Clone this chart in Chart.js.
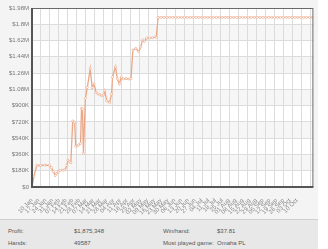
<!DOCTYPE html>
<html><head><meta charset="utf-8">
<script src="https://cdn.jsdelivr.net/npm/chart.js@4.4.1/dist/chart.umd.min.js"></script>
<style>
html,body{margin:0;padding:0;background:#fff;width:328px;height:249px;overflow:hidden;font-family:"Liberation Sans",Arial,sans-serif}
#panel{position:absolute;left:0;top:0;width:318px;height:249px;background:#f4f4f4}
#chartBox{position:absolute;left:0;top:0;width:318px;height:218px}
#stats{position:absolute;left:0;top:219px;width:318px;height:30px;background:#e8e8e8;border-top:1px solid #cfcfcf;font-size:6px;color:#555}
#stats span{position:absolute;white-space:nowrap;line-height:8px}
</style>
</head><body>
<div id="panel">
<div id="chartBox"><canvas id="c" width="318" height="218"></canvas></div>
<div id="stats">
<span style="left:8px;top:7px">Profit:</span>
<span style="left:74px;top:7px">$1,875,348</span>
<span style="left:163px;top:7px">Win/hand:</span>
<span style="left:217px;top:7px">$37.81</span>
<span style="left:8px;top:19px">Hands:</span>
<span style="left:74px;top:19px">49587</span>
<span style="left:163px;top:19px">Most played game:</span>
<span style="left:217px;top:19px">Omaha PL</span>
</div>
</div>
<script>
const weekLabels = ["10 Jan","17 Jan","24 Jan","31 Jan","07 Feb","14 Feb","21 Feb","28 Feb","07 Mar","14 Mar","21 Mar","28 Mar","04 Apr","11 Apr","18 Apr","25 Apr","02 May","09 May","16 May","23 May","30 May","06 Jun","13 Jun","20 Jun","27 Jun","04 Jul","11 Jul","18 Jul","25 Jul","01 Aug","08 Aug","15 Aug","22 Aug","29 Aug","05 Sep","12 Sep","19 Sep","26 Sep","03 Oct","10 Oct"];
const yLabels = ["$0","$180K","$360K","$540K","$720K","$900K","$1.08M","$1.26M","$1.44M","$1.62M","$1.8M","$1.98M"];
const days = [0,2,5,9,13,18,20,22,24,25,27,29,32,34,36,37,39,40,42,44,45,47,48,50,51,52,53,55,57,60,62,64,66,68,70,72,74,75,77,80,82,83,86,88,90,92,94,97,100,102,104,107,110,112,114,116,118,121,124,128,130,
133,136,139,142,145,148,151,154,157,160,163,166,169,172,175,178,181,184,187,190,193,196,199,202,205,208,211,214,217,220,223,226,229,232,235,238,241,244,247,250,253,256,259,262,265,268,271,274,277,280,283,286,289];
const profit = [0,120000,240000,238000,242000,240000,214000,170000,127000,146000,165000,184000,186000,190000,240000,296000,280000,270000,730000,715000,450000,458000,465000,480000,870000,860000,370000,980000,1100000,1310000,1100000,1140000,1046000,1030000,1020000,1010000,1020000,1065000,953000,934000,1027000,1215000,1330000,1196000,1140000,1215000,1196000,1200000,1195000,1200000,1515000,1533000,1496000,1550000,1628000,1610000,1646000,1650000,1652000,1657000,1875348,
1875348,1875348,1875348,1875348,1875348,1875348,1875348,1875348,1875348,1875348,1875348,1875348,1875348,1875348,1875348,1875348,1875348,1875348,1875348,1875348,1875348,1875348,1875348,1875348,1875348,1875348,1875348,1875348,1875348,1875348,1875348,1875348,1875348,1875348,1875348,1875348,1875348,1875348,1875348,1875348,1875348,1875348,1875348,1875348,1875348,1875348,1875348,1875348,1875348,1875348,1875348,1875348,1875348];

const points = days.map((d,i)=>({x:d,y:profit[i]}));

const frame = {
  id:'frame',
  afterDatasetsDraw(chart){
    const a = chart.chartArea, ctx = chart.ctx;
    ctx.save();
    ctx.strokeStyle = '#6a6a6a';
    ctx.lineWidth = 1;
    ctx.strokeRect(a.left+0.5, a.top+0.5, a.right-a.left-1, a.bottom-a.top-1);
    ctx.lineWidth = 2;
    ctx.strokeStyle = '#555';
    ctx.beginPath();
    ctx.moveTo(a.left, a.top); ctx.lineTo(a.left, a.bottom); ctx.lineTo(a.right, a.bottom);
    ctx.stroke();
    ctx.restore();
  },
  beforeDraw(chart){
    const a = chart.chartArea, ctx = chart.ctx, y = chart.scales.y;
    ctx.save();
    ctx.fillStyle = '#ffffff';
    ctx.fillRect(a.left, a.top, a.right-a.left, a.bottom-a.top);
    ctx.fillStyle = '#f6f6f6';
    for (let i = 1; i < yLabels.length-1; i += 2) {
      const t = y.getPixelForValue((i+1)*180000), b = y.getPixelForValue(i*180000);
      ctx.fillRect(a.left, t, a.right-a.left, b-t);
    }
    ctx.restore();
  }
};

new Chart(document.getElementById('c'), {
  type:'line',
  data:{datasets:[{
    data:points,
    borderColor:'#eba887',
    borderWidth:1.3,
    pointRadius:1.1,
    pointBorderWidth:0.6,
    pointBackgroundColor:'#fff',
    pointBorderColor:'#eba887',
    tension:0
  }]},
  plugins:[frame],
  options:{
    responsive:false,
    animation:false,
    layout:{padding:{top:8,right:4,left:0,bottom:0}},
    plugins:{legend:{display:false},tooltip:{enabled:false}},
    scales:{
      x:{
        type:'linear', min:0, max:290, position:'bottom',
        afterBuildTicks(ax){ ax.ticks = weekLabels.map((_,i)=>({value:i*7})); },
        ticks:{autoSkip:false, minRotation:45, maxRotation:45, padding:2, color:'#888',
          font:{size:6, family:'"Liberation Sans", Arial, sans-serif'},
          callback:(v)=>weekLabels[Math.round(v/7)]},
        grid:{display:false},
        border:{display:false}
      },
      xg:{
        type:'linear', min:0, max:31.3, position:'bottom',
        afterBuildTicks(ax){ const t=[]; for(let i=0;i<=31;i++) t.push({value:i}); ax.ticks=t; },
        ticks:{display:false},
        grid:{color:'#dcdcdc', drawTicks:false, lineWidth:1},
        border:{display:false}
      },
      y:{
        min:0, max:1980000,
        afterBuildTicks(ax){ ax.ticks = yLabels.map((_,i)=>({value:i*180000})); },
        afterFit(ax){ ax.width = 32; },
        ticks:{padding:3, color:'#777', font:{size:6, family:'"Liberation Sans", Arial, sans-serif'},
          callback:(v)=>yLabels[Math.round(v/180000)]},
        grid:{color:'#dcdcdc', drawTicks:false},
        border:{display:false}
      }
    }
  }
});
</script>
</body></html>
